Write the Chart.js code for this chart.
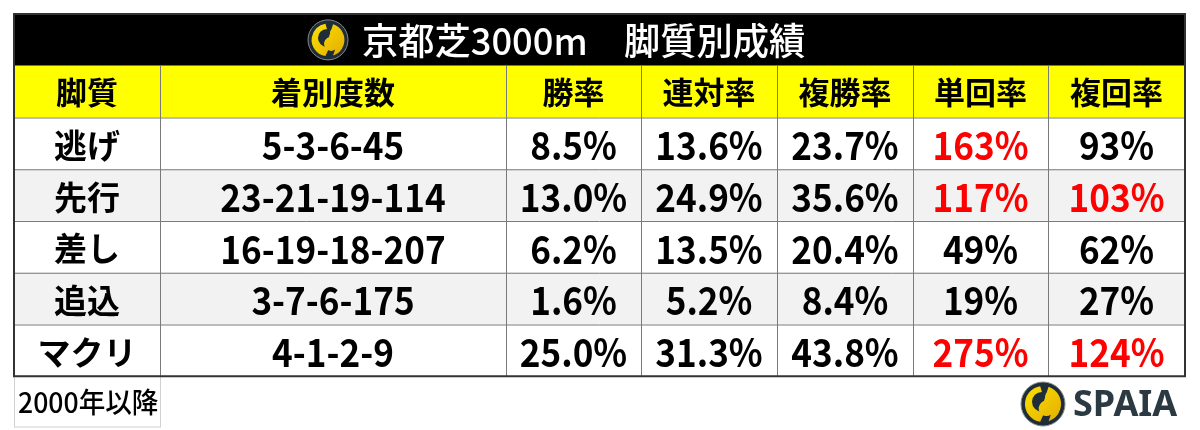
<!DOCTYPE html>
<html><head><meta charset="utf-8">
<script src="https://cdn.jsdelivr.net/npm/chart.js@4"></script>
<style>html,body{margin:0;padding:0;background:#fff}#w{width:1200px;height:430px}</style>
</head><body><div id="w"><canvas id="c"></canvas></div>
<script>
const title = "京都芝3000m　脚質別成績";
const headers = ["脚質","着別度数","勝率","連対率","複勝率","単回率","複回率"];
const styles = ["逃げ","先行","差し","追込","マクリ"];
const records = ["5-3-6-45","23-21-19-114","16-19-18-207","3-7-6-175","4-1-2-9"];
const winRate = ["8.5%","13.0%","6.2%","1.6%","25.0%"];
const rentaiRate = ["13.6%","24.9%","13.5%","5.2%","31.3%"];
const placeRate = ["23.7%","35.6%","20.4%","8.4%","43.8%"];
const winReturn = ["163%","117%","49%","19%","275%"];
const placeReturn = ["93%","103%","62%","27%","124%"];
const note = "2000年以降";

const rowsLbl = ["title","header","r0","r1","r2","r3","r4","note"];
const colEdges = [14,160,506,641,777,913,1048,1185];
const L = colEdges[0], R = colEdges[colEdges.length-1];
const rowBg = ["#000","#ffff00","#fff","#f2f2f2","#fff","#f2f2f2","#fff","#fff"];
const bgData = rowsLbl.map((r,i)=> i===7 ? [L,colEdges[1]] : [L,R]);

function red(v){return parseFloat(v)>=100;}

const tablePlugin = {
  id:'table',
  afterDatasetsDraw(chart){
    const ctx = chart.ctx, x = chart.scales.x, y = chart.scales.y;
    const h = y.getPixelForValue(1)-y.getPixelForValue(0);
    const top = i => y.getPixelForValue(i)-h/2, bot = i => y.getPixelForValue(i)+h/2;
    const px = v => x.getPixelForValue(v);
    ctx.save();
    ctx.strokeStyle = "#7a7a7a"; ctx.lineWidth = 1;
    for (let i=2;i<=6;i++){ ctx.beginPath(); ctx.moveTo(px(L),top(i)+0.5); ctx.lineTo(px(R),top(i)+0.5); ctx.stroke(); }
    for (let k=1;k<colEdges.length-1;k++){ ctx.beginPath(); ctx.moveTo(px(colEdges[k])+0.5,top(1)); ctx.lineTo(px(colEdges[k])+0.5,bot(6)); ctx.stroke(); }
    ctx.strokeStyle="#d0d0d0"; ctx.strokeRect(px(L)+0.5,top(7),px(colEdges[1])-px(L),h-1);
    ctx.strokeStyle="#333"; ctx.lineWidth=2;
    ctx.strokeRect(px(L),top(0),px(R)-px(L),bot(6)-top(0));
    const cy0 = y.getPixelForValue(0);
    ctx.textBaseline="middle";
    ctx.font = "500 37px 'Noto Sans CJK JP'";
    ctx.fillStyle="#fff"; ctx.textAlign="left";
    ctx.save(); ctx.translate(362, cy0+1); ctx.scale(0.98,1); ctx.fillText(title,0,0); ctx.restore();
    drawLogo(ctx, 328, cy0, 20);
    const cols = [styles,records,winRate,rentaiRate,placeRate,winReturn,placeReturn];
    ctx.textAlign="center";
    ctx.font = "bold 31px 'Noto Sans CJK JP'"; ctx.fillStyle="#000";
    headers.forEach((t,k)=>ctx.fillText(t,(px(colEdges[k])+px(colEdges[k+1]))/2,y.getPixelForValue(1)+1));
    for (let r=0;r<5;r++){
      const cy = y.getPixelForValue(r+2)+2;
      cols.forEach((col,k)=>{
        const t = col[r];
        const cx = (px(colEdges[k])+px(colEdges[k+1]))/2;
        ctx.fillStyle = (k>=5 && red(t)) ? "#ff0000" : "#000";
        ctx.save(); ctx.translate(cx,cy);
        if (k>0) ctx.scale(0.9,1);
        ctx.font = k===0 ? "bold 33px 'Noto Sans CJK JP'" : "bold 39px 'Noto Sans CJK JP'";
        ctx.fillText(t,0,0); ctx.restore();
      });
    }
    ctx.textAlign="left"; ctx.fillStyle="#000"; ctx.font="500 28px 'Noto Sans CJK JP'";
    ctx.save(); ctx.translate(px(L)+4,y.getPixelForValue(7)); ctx.scale(0.95,1); ctx.fillText(note,0,0); ctx.restore();
    drawLogo(ctx,1043,404,22);
    ctx.fillStyle="#2b3a42"; ctx.font="bold 36px 'Noto Sans', sans-serif";
    ctx.fillText("SPAIA",1073,406);
    ctx.restore();
  }
};
function drawLogo(ctx,cx,cy,r){
  ctx.save();
  ctx.beginPath(); ctx.arc(cx,cy,r,0,Math.PI*2); ctx.fillStyle="#1f2d38"; ctx.fill();
  ctx.strokeStyle="#888"; ctx.lineWidth=1; ctx.stroke();
  const g = ctx.createLinearGradient(cx-r,cy-r,cx+r,cy+r); g.addColorStop(0,"#ffe600"); g.addColorStop(1,"#e0a800");
  ctx.fillStyle=g;
  ctx.beginPath(); ctx.arc(cx,cy,r*0.82,Math.PI*0.55,Math.PI*1.45); ctx.arc(cx-r*0.05,cy-r*0.1,r*0.45,Math.PI*1.5,Math.PI*0.4,true); ctx.closePath(); ctx.fill();
  ctx.beginPath(); ctx.arc(cx,cy,r*0.82,Math.PI*1.6,Math.PI*0.4); ctx.arc(cx+r*0.15,cy+r*0.2,r*0.35,Math.PI*0.3,Math.PI*1.4,false); ctx.closePath(); ctx.fill();
  ctx.beginPath(); ctx.arc(cx+r*0.3,cy-r*0.35,r*0.2,0,Math.PI*2); ctx.fill();
  ctx.restore();
}
new Chart(document.getElementById('c'),{
  type:'bar',
  data:{labels:rowsLbl,datasets:[{data:bgData,backgroundColor:rowBg,borderWidth:0,barPercentage:1,categoryPercentage:1}]},
  options:{
    indexAxis:'y',responsive:true,maintainAspectRatio:false,animation:false,
    layout:{padding:{top:14,bottom:2,left:0,right:0}},
    plugins:{legend:{display:false},tooltip:{enabled:false}},
    scales:{x:{type:'linear',min:0,max:1200,display:false},y:{display:false,offset:true}}
  },
  plugins:[tablePlugin]
});
</script></body></html>
